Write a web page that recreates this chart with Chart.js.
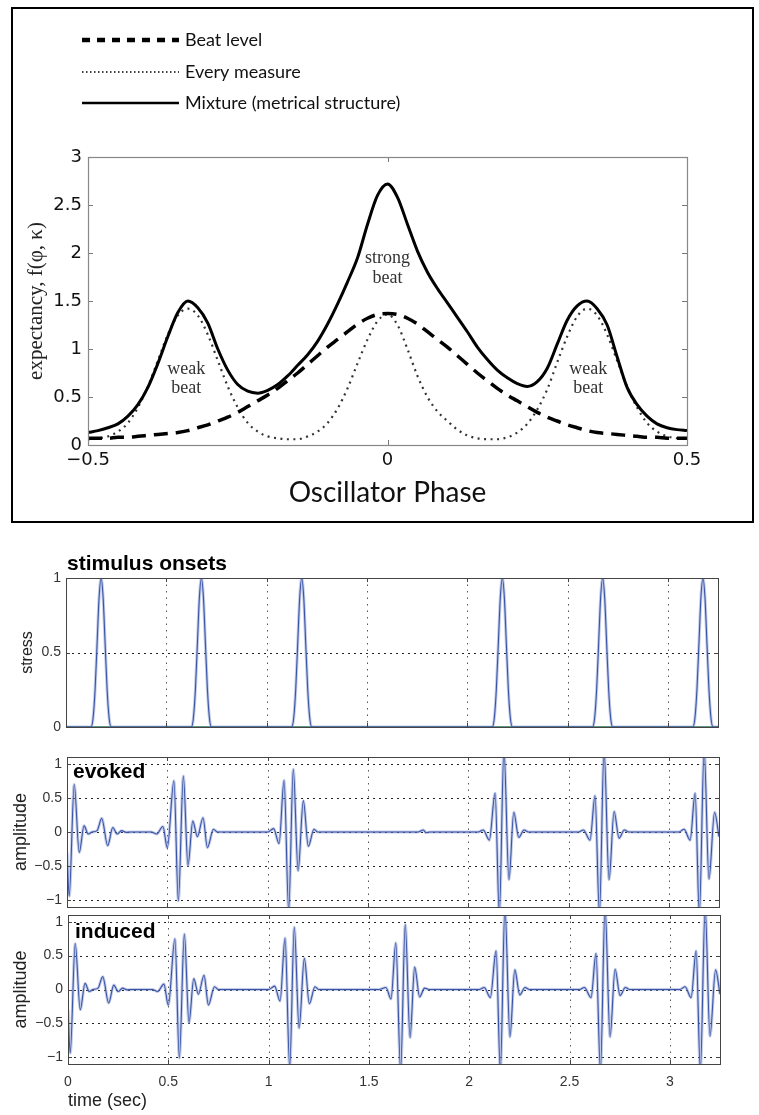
<!DOCTYPE html>
<html>
<head>
<meta charset="utf-8">
<script src="https://cdn.jsdelivr.net/npm/chart.js@4.4.1/dist/chart.umd.min.js"></script>
<style>
html,body{margin:0;padding:0;background:#fff;}
body{width:759px;height:1115px;position:relative;overflow:hidden;}
#frame{position:absolute;left:11px;top:7px;width:743px;height:516px;border:2px solid #000;box-sizing:border-box;}
canvas{position:absolute;}
</style>
</head>
<body>
<div id="frame"></div>
<canvas id="c0" width="737" height="510" style="left:14px;top:10px;width:737px;height:510px"></canvas>
<canvas id="c1" width="759" height="195" style="left:0px;top:540px;width:759px;height:195px"></canvas>
<canvas id="c2" width="759" height="172" style="left:0px;top:740px;width:759px;height:172px"></canvas>
<canvas id="c3" width="759" height="203" style="left:0px;top:912px;width:759px;height:203px"></canvas>
<script>
// ---------------- DATA: top panel (expectancy vs oscillator phase) ----------------
const phase = [-0.5,-0.4833,-0.4667,-0.45,-0.4333,-0.4167,-0.4,-0.3833,-0.3667,-0.35,-0.3333,-0.3167,-0.3,-0.2833,-0.2667,-0.25,-0.2333,-0.2167,-0.2,-0.1833,-0.1667,-0.15,-0.1333,-0.1167,-0.1,-0.0833,-0.0667,-0.05,-0.0333,-0.0167,0,0.0167,0.0333,0.05,0.0667,0.0833,0.1,0.1167,0.1333,0.15,0.1667,0.1833,0.2,0.2167,0.2333,0.25,0.2667,0.2833,0.3,0.3167,0.3333,0.35,0.3667,0.3833,0.4,0.4167,0.4333,0.45,0.4667,0.4833,0.5];
const beatLevel = [0.07,0.07,0.07,0.08,0.08,0.09,0.10,0.11,0.12,0.13,0.15,0.18,0.21,0.25,0.29,0.34,0.40,0.46,0.52,0.59,0.67,0.75,0.84,0.93,1.02,1.10,1.18,1.26,1.32,1.36,1.37,1.36,1.32,1.26,1.18,1.10,1.02,0.93,0.84,0.75,0.67,0.59,0.52,0.46,0.40,0.34,0.29,0.25,0.21,0.18,0.15,0.13,0.12,0.11,0.10,0.09,0.08,0.08,0.07,0.07,0.07];
const everyMeasure = [0.06,0.07,0.09,0.14,0.23,0.39,0.61,0.88,1.15,1.35,1.42,1.35,1.15,0.88,0.61,0.39,0.23,0.14,0.09,0.07,0.06,0.06,0.09,0.14,0.23,0.38,0.59,0.85,1.10,1.29,1.36,1.25,1.00,0.72,0.50,0.35,0.25,0.16,0.10,0.07,0.06,0.06,0.08,0.13,0.22,0.37,0.58,0.86,1.13,1.34,1.42,1.35,1.15,0.88,0.61,0.39,0.23,0.14,0.09,0.07,0.06];
const mixture = [0.13,0.15,0.18,0.22,0.30,0.42,0.60,0.85,1.13,1.38,1.50,1.43,1.27,1.00,0.78,0.63,0.56,0.54,0.57,0.63,0.72,0.83,0.94,1.08,1.26,1.47,1.70,1.95,2.30,2.60,2.72,2.58,2.30,2.02,1.80,1.63,1.48,1.33,1.18,1.02,0.89,0.78,0.70,0.64,0.61,0.66,0.80,1.05,1.30,1.45,1.50,1.42,1.25,0.92,0.60,0.42,0.30,0.22,0.18,0.16,0.15];
const seriesLabels = ['Beat level','Every measure','Mixture (metrical structure)'];
const phaseTicks = [-0.5,0,0.5];
const phaseTickLabels = ['\u22120.5','0','0.5'];
const expTicks = [0,0.5,1,1.5,2,2.5,3];
const expTickLabels = ['0','0.5','1','1.5','2','2.5','3'];
const beatNotes = ['weak','beat','strong','beat','weak','beat'];
const beatNoteX = [-0.336,-0.336,0,0,0.335,0.335];
const beatNoteY = [0.79,0.59,1.95,1.74,0.79,0.59];

// ---------------- DATA: lower panels (time in seconds) ----------------
const onsetTimes = [0.175,0.675,1.175,2.175,2.675,3.175];
const pulseOffsets = [-0.05,-0.04,-0.03,-0.02,-0.01,0,0.01,0.02,0.03,0.04,0.05];
const pulseShape = [0,0.06,0.25,0.56,0.87,1,0.87,0.56,0.25,0.06,0];
const baselineT = [0,3.25];
const baselineV = [0,0];
const evokedT = [0,0.011,0.036,0.061,0.085,0.106,0.125,0.15,0.173,0.203,0.228,0.25,0.272,0.295,0.32,0.42,0.447,0.478,0.5,0.533,0.555,0.58,0.603,0.627,0.65,0.678,0.70,0.73,0.75,1.0,1.03,1.057,1.082,1.105,1.128,1.152,1.178,1.203,1.231,1.25,1.75,1.776,1.79,1.81,2.05,2.075,2.105,2.134,2.155,2.178,2.203,2.227,2.252,2.278,2.3,2.55,2.574,2.607,2.632,2.654,2.677,2.702,2.727,2.752,2.778,2.8,3.05,3.076,3.106,3.131,3.152,3.176,3.2,3.228,3.25];
const evokedV = [-0.3,-0.94,0.70,-0.30,0.09,-0.03,0,0.02,0.20,-0.20,0.065,-0.03,0.02,-0.005,0,0,-0.03,0.08,-0.23,0.75,-1.01,0.82,-0.49,0.16,-0.07,0.21,-0.23,0.04,0,0,0.05,-0.17,0.76,-1.15,0.92,-0.57,0.46,-0.21,0.04,0,0,0.03,-0.01,0,0,0.03,-0.12,0.57,-1.2,1.2,-0.70,0.29,-0.08,0.03,0,0,0.03,-0.12,0.53,-1.2,1.2,-0.70,0.30,-0.09,0.03,0,0,0.04,-0.12,0.57,-1.2,1.2,-0.69,0.29,-0.07];
const inducedT = [0,0.011,0.036,0.061,0.085,0.106,0.125,0.15,0.173,0.203,0.228,0.25,0.272,0.295,0.32,0.42,0.447,0.478,0.5,0.533,0.555,0.58,0.603,0.627,0.65,0.678,0.70,0.73,0.75,1.0,1.03,1.057,1.082,1.105,1.128,1.152,1.178,1.203,1.231,1.25,1.55,1.585,1.61,1.634,1.658,1.681,1.705,1.728,1.753,1.777,1.8,2.05,2.075,2.105,2.134,2.155,2.178,2.203,2.227,2.252,2.278,2.3,2.55,2.574,2.607,2.632,2.654,2.677,2.702,2.727,2.752,2.778,2.8,3.05,3.076,3.106,3.131,3.152,3.176,3.2,3.228,3.25];
const inducedV = [-0.3,-0.94,0.68,-0.30,0.09,-0.03,0,0.02,0.19,-0.20,0.065,-0.03,0.02,-0.005,0,0,-0.03,0.08,-0.23,0.75,-1.01,0.82,-0.49,0.16,-0.07,0.21,-0.23,0.04,0,0,0.05,-0.17,0.76,-1.15,0.92,-0.57,0.46,-0.21,0.04,0,0,0.03,-0.14,0.69,-1.2,0.96,-0.71,0.33,-0.11,0.02,0,0,0.03,-0.12,0.57,-1.2,1.2,-0.70,0.29,-0.08,0.03,0,0,0.03,-0.12,0.53,-1.2,1.2,-0.70,0.30,-0.09,0.03,0,0,0.04,-0.12,0.57,-1.2,1.2,-0.69,0.29,-0.07];
const timeTicks = [0,0.5,1,1.5,2,2.5,3];
const timeTickLabels = ['0','0.5','1','1.5','2','2.5','3'];
const stressTicks = [0,0.5,1];
const stressTickLabels = ['0','0.5','1'];
const ampTicks = [-1,-0.5,0,0.5,1];
const ampTickLabels = ['\u22121','\u22120.5','0','0.5','1'];

// ---------------- helpers ----------------
const SANS = '"Liberation Sans", Arial, Helvetica, sans-serif';
const DEJ = '"DejaVu Sans", Verdana, sans-serif';
const SERIF = '"Liberation Serif", "Times New Roman", serif';
const HUM = 'Lato, "Open Sans", sans-serif';

function pts(xs, ys) { return xs.map((x, i) => ({x: x, y: ys[i]})); }
function fixedTicks(values) { return s => { s.ticks = values.map(v => ({value: v})); }; }
function labelsFrom(labels) { return (v, i) => labels[i]; }
function fitBox(w, h) {
  return s => {
    if (w !== null) s.width = w;
    if (h !== null) s.height = h;
    s.paddingTop = 0; s.paddingBottom = 0; s.paddingLeft = 0; s.paddingRight = 0;
  };
}

const matlabAxes = {
  id: 'matlabAxes',
  beforeDatasetsDraw(chart, args, o) {
    if (!o.grid) return;
    const {ctx, chartArea: a, scales: {x, y}} = chart;
    ctx.save();
    ctx.lineWidth = 1;
    ctx.strokeStyle = o.vColor; ctx.setLineDash(o.vDash);
    x.ticks.forEach(t => {
      const p = Math.round(x.getPixelForValue(t.value)) + 0.5;
      if (p < a.left + 2 || p > a.right - 2) return;
      ctx.beginPath(); ctx.moveTo(p, a.top); ctx.lineTo(p, a.bottom); ctx.stroke();
    });
    ctx.strokeStyle = o.hColor; ctx.setLineDash(o.hDash);
    y.ticks.forEach(t => {
      const p = Math.round(y.getPixelForValue(t.value)) + 0.5;
      if (p < a.top + 2 || p > a.bottom - 2) return;
      ctx.beginPath(); ctx.moveTo(a.left, p); ctx.lineTo(a.right, p); ctx.stroke();
    });
    ctx.restore();
  },
  afterDatasetsDraw(chart, args, o) {
    const {ctx, chartArea: a, scales: {x, y}} = chart;
    const L = o.tickLen;
    ctx.save();
    ctx.setLineDash([]);
    ctx.lineWidth = 1;
    ctx.strokeStyle = o.tickColor;
    ctx.beginPath();
    x.ticks.forEach(t => {
      const p = Math.round(x.getPixelForValue(t.value)) + 0.5;
      ctx.moveTo(p, a.bottom); ctx.lineTo(p, a.bottom - L);
      ctx.moveTo(p, a.top); ctx.lineTo(p, a.top + L);
    });
    y.ticks.forEach(t => {
      const p = Math.round(y.getPixelForValue(t.value)) + 0.5;
      ctx.moveTo(a.left, p); ctx.lineTo(a.left + L, p);
      ctx.moveTo(a.right, p); ctx.lineTo(a.right - L, p);
    });
    ctx.stroke();
    ctx.strokeStyle = o.boxColor;
    ctx.lineWidth = o.boxWidth || 1;
    ctx.strokeRect(Math.round(a.left) + 0.5, Math.round(a.top) + 0.5, Math.round(a.right - a.left), Math.round(a.bottom - a.top));
    ctx.restore();
  }
};

const overlayText = {
  id: 'overlayText',
  afterDraw(chart, args, o) {
    const ctx = chart.ctx;
    (o.items || []).forEach(it => {
      let x = it.x, y = it.y;
      if (it.data) { x = chart.scales.x.getPixelForValue(it.x); y = chart.scales.y.getPixelForValue(it.y); }
      ctx.save();
      ctx.font = it.font; ctx.fillStyle = it.color || '#000';
      ctx.textAlign = it.align || 'left'; ctx.textBaseline = it.baseline || 'alphabetic';
      ctx.fillText(it.text, x, y);
      ctx.restore();
    });
  }
};

const phaseLegend = {
  id: 'phaseLegend',
  afterDraw(chart, args, o) {
    const ctx = chart.ctx;
    chart.data.datasets.forEach((ds, i) => {
      const y = o.rows[i];
      ctx.save();
      ctx.strokeStyle = '#000';
      ctx.lineWidth = o.widths[i];
      ctx.setLineDash(o.dashes[i]);
      ctx.beginPath(); ctx.moveTo(o.x1, y); ctx.lineTo(o.x2, y); ctx.stroke();
      ctx.setLineDash([]);
      ctx.fillStyle = '#111'; ctx.font = o.font; ctx.textBaseline = 'middle'; ctx.textAlign = 'left';
      ctx.fillText(ds.label, o.textX, y);
      ctx.restore();
    });
  }
};

// ---------------- top chart ----------------
new Chart(document.getElementById('c0'), {
  type: 'line',
  data: {
    datasets: [
      {label: seriesLabels[0], data: pts(phase, beatLevel), borderColor: '#000', borderWidth: 3.5, borderDash: [14, 8], cubicInterpolationMode: 'monotone', pointRadius: 0, order: 1},
      {label: seriesLabels[1], data: pts(phase, everyMeasure), borderColor: '#333', borderWidth: 2.2, borderDash: [2, 4.5], cubicInterpolationMode: 'monotone', pointRadius: 0, order: 2},
      {label: seriesLabels[2], data: pts(phase, mixture), borderColor: '#000', borderWidth: 3, cubicInterpolationMode: 'monotone', pointRadius: 0, order: 0}
    ]
  },
  options: {
    responsive: false, animation: false, devicePixelRatio: 1,
    layout: {padding: {left: 0, top: 147, right: 64, bottom: 0}},
    plugins: {
      legend: {display: false}, tooltip: {enabled: false},
      matlabAxes: {grid: false, tickLen: 5, tickColor: '#777', boxColor: '#888', boxWidth: 1.2},
      phaseLegend: {rows: [30, 62, 93], x1: 68, x2: 165, textX: 171, font: '18px ' + HUM, widths: [4.5, 1.5, 2.5], dashes: [[8, 7], [1.5, 2.5], []]},
      overlayText: {items: beatNotes.map((t, i) => ({text: t, x: beatNoteX[i], y: beatNoteY[i], data: true, font: '18px ' + SERIF, color: '#333', align: 'center', baseline: 'middle'}))}
    },
    scales: {
      x: {
        type: 'linear', min: -0.5, max: 0.5,
        afterBuildTicks: fixedTicks(phaseTicks), afterFit: fitBox(null, 75),
        grid: {display: false, drawTicks: false}, border: {display: false},
        ticks: {autoSkip: false, maxRotation: 0, font: {family: DEJ, size: 18}, color: '#111', padding: 5, callback: labelsFrom(phaseTickLabels)},
        title: {display: true, text: 'Oscillator Phase', font: {family: HUM, size: 28}, color: '#111', padding: {top: 0, bottom: 10}}
      },
      y: {
        type: 'linear', min: 0, max: 3,
        afterBuildTicks: fixedTicks(expTicks), afterFit: fitBox(74, null),
        grid: {display: false, drawTicks: false}, border: {display: false},
        ticks: {autoSkip: false, font: {family: DEJ, size: 18}, color: '#111', padding: 6, callback: labelsFrom(expTickLabels)},
        title: {display: true, text: 'expectancy, f(\u03c6, \u03ba)', font: {family: SERIF, size: 21}, color: '#222', padding: {top: 10, bottom: 0}}
      }
    }
  },
  plugins: [matlabAxes, phaseLegend, overlayText]
});

// ---------------- lower panels ----------------
const lowerAxes = {grid: true, vColor: '#555', vDash: [1.5, 5], hColor: '#222', hDash: [2, 4], tickLen: 4, tickColor: '#444', boxColor: '#444', boxWidth: 1};
function wave(data) {
  return [
    {data: data, borderColor: 'rgba(120,140,205,0.45)', borderWidth: 3, cubicInterpolationMode: 'monotone', pointRadius: 0, order: 2},
    {data: data, borderColor: '#3a55a6', borderWidth: 1.1, cubicInterpolationMode: 'monotone', pointRadius: 0, order: 1}
  ];
}
function lowerChart(id, cfg) {
  return new Chart(document.getElementById(id), {
    type: 'line',
    data: {datasets: cfg.datasets},
    options: {
      responsive: false, animation: false, devicePixelRatio: 1,
      layout: {padding: cfg.padding},
      plugins: {legend: {display: false}, tooltip: {enabled: false}, matlabAxes: lowerAxes, overlayText: {items: cfg.texts}},
      scales: {
        x: {
          type: 'linear', min: 0, max: 3.25,
          afterBuildTicks: fixedTicks(timeTicks), afterFit: fitBox(null, cfg.xHeight),
          grid: {display: false, drawTicks: false}, border: {display: false},
          ticks: {display: cfg.xLabels, autoSkip: false, maxRotation: 0, font: {family: SANS, size: 14}, color: '#333', padding: 10, callback: labelsFrom(timeTickLabels)},
          title: {display: cfg.xLabels, text: 'time (sec)', align: 'start', font: {family: SANS, size: 18}, color: '#222', padding: {top: 0, bottom: 3}}
        },
        y: {
          type: 'linear', min: cfg.yMin, max: cfg.yMax,
          afterBuildTicks: fixedTicks(cfg.yTicks), afterFit: fitBox(cfg.yWidth, null),
          grid: {display: false, drawTicks: false}, border: {display: false},
          ticks: {autoSkip: false, font: {family: SANS, size: 14}, color: '#333', padding: 5, callback: labelsFrom(cfg.yLabels)},
          title: {display: true, text: cfg.yTitle, font: {family: SANS, size: cfg.yTitleSize}, color: '#222', padding: {top: cfg.yTitlePad, bottom: 0}}
        }
      }
    },
    plugins: [matlabAxes, overlayText]
  });
}

const stimPoints = [{x: 0, y: 0}];
onsetTimes.forEach(t => pulseOffsets.forEach((o, i) => stimPoints.push({x: +(t + o).toFixed(4), y: pulseShape[i]})));
stimPoints.push({x: 3.25, y: 0});

lowerChart('c1', {
  datasets: [{data: pts(baselineT, baselineV), borderColor: '#2d7558', borderWidth: 1.5, pointRadius: 0, order: 3}].concat(wave(stimPoints)),
  padding: {left: 0, top: 38, right: 41, bottom: 8}, xHeight: 0, xLabels: false,
  yMin: 0, yMax: 1, yTicks: stressTicks, yLabels: stressTickLabels, yWidth: 66,
  yTitle: 'stress', yTitleSize: 16, yTitlePad: 18,
  texts: [{text: 'stimulus onsets', x: 67, y: 30, font: 'bold 21px ' + SANS, color: '#000'}]
});

lowerChart('c2', {
  datasets: wave(pts(evokedT, evokedV)),
  padding: {left: 0, top: 17, right: 40, bottom: 5}, xHeight: 0, xLabels: false,
  yMin: -1.1, yMax: 1.1, yTicks: ampTicks, yLabels: ampTickLabels, yWidth: 67,
  yTitle: 'amplitude', yTitleSize: 18, yTitlePad: 10,
  texts: [{text: 'evoked', x: 73, y: 37.5, font: 'bold 21px ' + SANS, color: '#000'}]
});

lowerChart('c3', {
  datasets: wave(pts(inducedT, inducedV)),
  padding: {left: 0, top: 3, right: 39, bottom: 0}, xHeight: 51, xLabels: true,
  yMin: -1.1, yMax: 1.1, yTicks: ampTicks, yLabels: ampTickLabels, yWidth: 68,
  yTitle: 'amplitude', yTitleSize: 18, yTitlePad: 10,
  texts: [{text: 'induced', x: 75, y: 26, font: 'bold 21px ' + SANS, color: '#000'}]
});
</script>
</body>
</html>
